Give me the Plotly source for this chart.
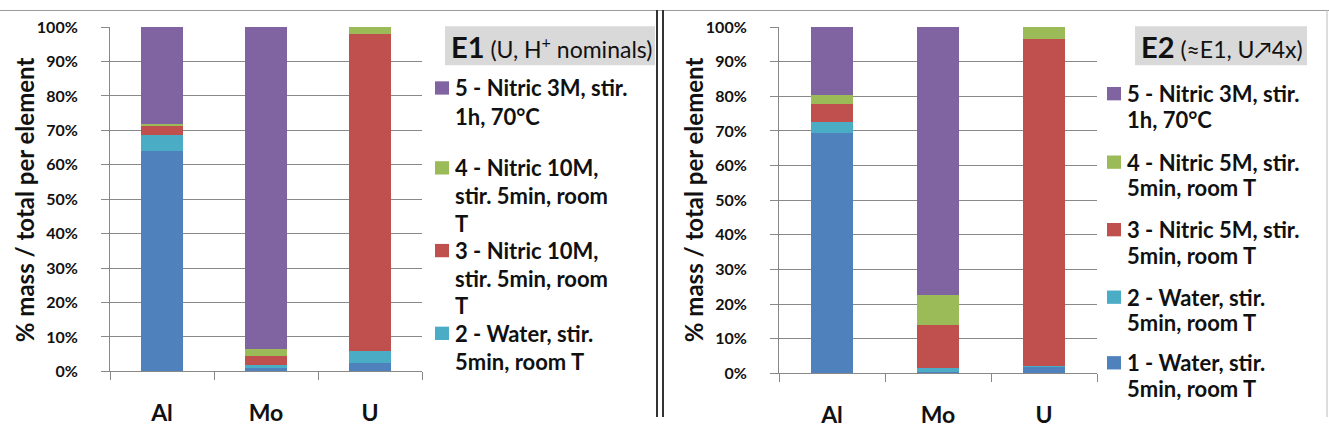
import plotly.graph_objects as go

W, H = 1329, 428

categories = ["Al", "Mo", "U"]
tick_vals = [0, 10, 20, 30, 40, 50, 60, 70, 80, 90, 100]
tick_text = [f"{v}%" for v in tick_vals]

# E1 values (% of total per element), steps 1..5
e1_s1 = [64.0, 1.0, 2.3]
e1_s2 = [4.8, 0.8, 3.6]
e1_s3 = [2.4, 2.7, 92.2]
e1_s4 = [0.6, 2.1, 1.9]
e1_s5 = [28.2, 93.4, 0.0]

# E2 values
e2_s1 = [69.4, 0.3, 1.8]
e2_s2 = [3.1, 1.2, 0.3]
e2_s3 = [5.3, 12.3, 94.4]
e2_s4 = [2.5, 8.7, 3.5]
e2_s5 = [19.7, 77.5, 0.0]

e1_labels = ["1 - Water, stir.|5min, room T",
             "2 - Water, stir.|5min, room T",
             "3 - Nitric 10M,|stir. 5min, room|T",
             "4 - Nitric 10M,|stir. 5min, room|T",
             "5 - Nitric 3M, stir.|1h, 70°C"]
e2_labels = ["1 - Water, stir.|5min, room T",
             "2 - Water, stir.|5min, room T",
             "3 - Nitric 5M, stir.|5min, room T",
             "4 - Nitric 5M, stir.|5min, room T",
             "5 - Nitric 3M, stir.|1h, 70°C"]

colors = ["#4F81BD", "#4BACC6", "#C0504D", "#9BBB59", "#8064A2"]
FONT = "Lato"


def px(x):
    return x / W


def py(y):
    return 1 - y / H


fig = go.Figure()
for i, vals in enumerate([e1_s1, e1_s2, e1_s3, e1_s4, e1_s5]):
    fig.add_trace(go.Bar(x=categories, y=vals, marker_color=colors[i],
                         marker_line_width=0, xaxis="x", yaxis="y",
                         name=e1_labels[i].replace("|", " ")))
for i, vals in enumerate([e2_s1, e2_s2, e2_s3, e2_s4, e2_s5]):
    fig.add_trace(go.Bar(x=categories, y=vals, marker_color=colors[i],
                         marker_line_width=0, xaxis="x2", yaxis="y2",
                         name=e2_labels[i].replace("|", " ")))

grid = "#888888"
xcommon = dict(type="category", tickson="boundaries", ticks="outside", ticklen=8,
               tickcolor=grid, showline=True, linecolor=grid, linewidth=1,
               showgrid=False, tickfont=dict(family=FONT, size=23, color="#111",
                                             weight="bold"),
               tickvals=categories, ticktext=["<b>" + c + "</b>" for c in categories],
               ticklabelstandoff=21)
ycommon = dict(range=[0, 100], tickvals=tick_vals,
               ticktext=["<b>" + t + "</b>" for t in tick_text], ticks="outside",
               ticklen=8, tickcolor=grid, showline=True, linecolor=grid, linewidth=1,
               showgrid=True, gridcolor=grid, gridwidth=1, zeroline=False,
               tickfont=dict(family=FONT, size=16, color="#111", weight="bold"),
               ticklabelstandoff=20)

fig.update_layout(
    width=W, height=H, autosize=False,
    margin=dict(l=0, r=0, t=0, b=0),
    paper_bgcolor="white", plot_bgcolor="white",
    barmode="stack", bargap=0.6, showlegend=False,
    xaxis=dict(domain=[px(110), px(422)], anchor="y", **xcommon),
    yaxis=dict(domain=[py(380), py(18)], anchor="x", **ycommon),
    xaxis2=dict(domain=[px(779), px(1097)], anchor="y2", **xcommon),
    yaxis2=dict(domain=[py(382), py(18)], anchor="x2", **ycommon),
)

shapes = []
annotations = []

# y axis titles
for xc in (24, 693):
    annotations.append(dict(x=px(xc), y=py(200), xref="paper", yref="paper",
                            text="<b>% mass / total per element</b>", textangle=-90,
                            showarrow=False, xanchor="center", yanchor="middle",
                            font=dict(family=FONT, size=24, color="#111")))

# legend title boxes
shapes.append(dict(type="rect", xref="paper", yref="paper", x0=px(445), x1=px(655),
                   y0=py(58), y1=py(17), fillcolor="#d9d9d9", line_width=0, layer="below"))
shapes.append(dict(type="rect", xref="paper", yref="paper", x0=px(1135), x1=px(1307),
                   y0=py(58), y1=py(17), fillcolor="#d9d9d9", line_width=0, layer="below"))
annotations.append(dict(x=px(449), y=py(38), xref="paper", yref="paper", showarrow=False,
                        xanchor="left", yanchor="middle",
                        text="<span style='font-size:29px'><b>E1</b></span> (U, H<sup>+</sup> nominals)",
                        font=dict(family=FONT, size=23, color="#111")))
annotations.append(dict(x=px(1139), y=py(38), xref="paper", yref="paper", showarrow=False,
                        xanchor="left", yanchor="middle",
                        text="<span style='font-size:29px'><b>E2</b></span> (≈E1, U↗4x)",
                        font=dict(family=FONT, size=23, color="#111")))

# legends (drawn as text + swatches)
left_items = {4: (82, 30), 3: (166, 29), 2: (253, 29), 1: (340, 30)}
right_items = {4: (88, 27), 3: (160, 27), 2: (231, 27), 1: (302, 27), 0: (371, 27)}


def add_legend(labels, items, sq_x, tx_x, fsize):
    for idx, (y0, dy) in items.items():
        shapes.append(dict(type="rect", xref="paper", yref="paper",
                           x0=px(sq_x), x1=px(sq_x + 14), y0=py(y0 + 7), y1=py(y0 - 7),
                           fillcolor=colors[idx], line_width=0))
        for k, line in enumerate(labels[idx].split("|")):
            annotations.append(dict(x=px(tx_x), y=py(y0 + k * dy), xref="paper", yref="paper",
                                    showarrow=False, xanchor="left", yanchor="middle",
                                    text="<b>" + line + "</b>",
                                    font=dict(family=FONT, size=fsize, color="#111")))


add_legend(e1_labels, left_items, 435, 453, 22)
add_legend(e2_labels, right_items, 1107, 1125, 22)

# panel borders
shapes.append(dict(type="line", xref="paper", yref="paper", x0=0, x1=1, y0=py(0.5), y1=py(0.5),
                   line=dict(color="#9a9a9a", width=1)))
shapes.append(dict(type="line", xref="paper", yref="paper", x0=px(657), x1=px(657), y0=0, y1=1,
                   line=dict(color="#333", width=2)))
shapes.append(dict(type="line", xref="paper", yref="paper", x0=px(663), x1=px(663), y0=0, y1=1,
                   line=dict(color="#333", width=2)))
shapes.append(dict(type="line", xref="paper", yref="paper", x0=px(1327), x1=px(1327), y0=0, y1=1,
                   line=dict(color="#bbbbbb", width=1)))

fig.update_layout(shapes=shapes, annotations=annotations)
fig.write_html("out.html")
